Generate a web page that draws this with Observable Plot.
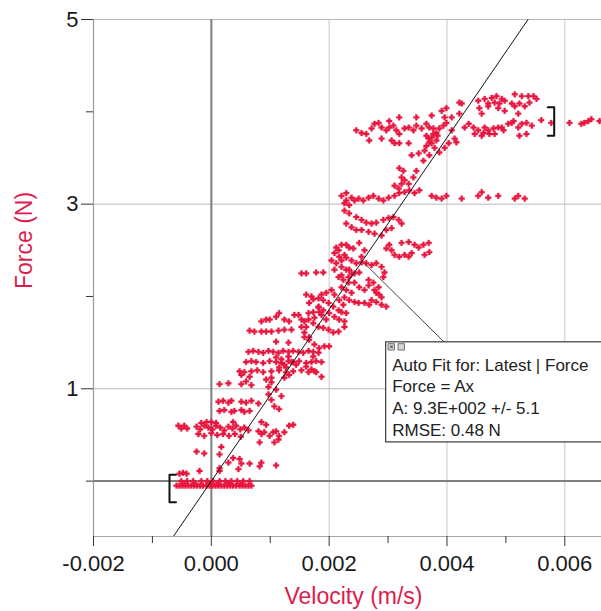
<!DOCTYPE html>
<html>
<head>
<meta charset="utf-8">
<script src="https://cdn.jsdelivr.net/npm/d3@7"></script>
<script src="https://cdn.jsdelivr.net/npm/@observablehq/plot@0.6"></script>
<style>
  html, body { margin: 0; padding: 0; background: #fff; }
  #chart { width: 601px; height: 611px; }
</style>
</head>
<body>
<div id="chart"></div>
<script>
// ---- Data: [velocity (mm/s), force (N)] ----
const bottomBand = [
  [-0.59,-0.05],[-0.54,-0.05],[-0.49,-0.05],[-0.44,-0.05],[-0.39,-0.05],[-0.34,-0.05],[-0.29,-0.05],[-0.24,-0.05],
  [-0.19,-0.05],[-0.14,-0.05],[-0.08,-0.05],[-0.03,-0.05],[0.02,-0.05],[0.07,-0.05],[0.12,-0.05],[0.17,-0.05],
  [0.22,-0.05],[0.27,-0.05],[0.32,-0.05],[0.37,-0.05],[0.42,-0.05],[0.48,-0.05],[0.53,-0.05],[0.58,-0.05],
  [0.63,-0.05],[0.68,-0.05],
  [-0.51,0.0],[-0.41,0.0],[-0.31,0.0],[-0.17,0.0],[-0.07,0.0],[0.03,0.0],[0.14,0.0],[0.24,0.0],[0.34,0.0],
  [0.44,0.0],[0.54,0.0],[0.65,0.0],
  [-0.46,-0.03],[-0.27,-0.03],[-0.05,-0.02],[0.10,-0.03],[0.30,-0.02],[0.50,-0.03],
  [-0.54,0.08],[-0.48,0.09],[-0.42,0.08],[-0.20,0.11],[0.14,0.11]
];
const lowCluster = [
  [-0.25,0.32],[-0.12,0.30],[0.17,0.37],[0.14,0.29],[0.29,0.20],[0.37,0.25],[0.48,0.24],[0.51,0.19],[0.65,0.19],
  [0.85,0.20],[0.46,0.13],[1.10,0.17],[0.82,0.16],[0.14,0.14],
  [-0.56,0.60],[-0.51,0.57],[-0.46,0.60],[-0.41,0.57],[-0.25,0.59],[-0.19,0.56],[-0.12,0.60],[-0.05,0.58],
  [0.02,0.56],[0.08,0.60],[0.15,0.58],[0.22,0.55],[0.29,0.59],[0.36,0.57],[0.42,0.60],[0.49,0.56],[0.56,0.58],[0.63,0.55],
  [-0.22,0.51],[-0.12,0.49],[0.0,0.52],[0.10,0.50],[0.20,0.51],[0.30,0.49],[0.40,0.51],[0.50,0.48],
  [-0.17,0.63],[-0.08,0.64],[0.0,0.64],[0.08,0.63],[0.37,0.64],
  [0.80,0.54],[0.85,0.51],[0.90,0.53],[0.99,0.49],[1.05,0.53],[1.10,0.54],[1.15,0.49],[1.24,0.53],[1.32,0.60],
  [1.39,0.61],[1.07,0.42],[1.14,0.45],[0.82,0.42],[0.85,0.64],[0.93,0.61],
  [0.12,0.86],[0.20,0.87],[0.29,0.85],[0.34,0.87],[0.51,0.86],[0.59,0.85],[0.68,0.87],[0.80,0.84],
  [0.14,0.76],[0.22,0.77],[0.34,0.75],[0.39,0.76],[0.51,0.77],[0.56,0.75],[0.65,0.76],
  [0.14,1.05],[0.29,1.06],[0.51,1.05],[0.68,1.04],
  [0.97,0.94],[1.02,0.88],[1.07,0.81],[1.15,0.78],[0.97,1.02],[1.02,1.07],[1.10,0.99],[1.19,0.92]
];
const midCluster = [
  [0.63,1.40],[0.71,1.41],[0.80,1.40],[0.88,1.39],[0.97,1.41],[1.05,1.40],[1.14,1.39],[1.22,1.41],[1.31,1.40],
  [1.39,1.41],[1.48,1.40],[1.56,1.39],[1.65,1.41],[1.73,1.40],[1.82,1.39],
  [0.59,1.29],[0.68,1.30],[0.76,1.29],[0.88,1.28],[0.99,1.30],[1.10,1.29],[1.19,1.28],[1.31,1.30],[1.39,1.29],
  [1.49,1.30],[1.61,1.28],[1.70,1.29],[1.78,1.30],[1.87,1.29],
  [0.48,1.19],[0.56,1.18],[0.68,1.19],[0.78,1.20],[0.88,1.18],[1.02,1.19],[1.15,1.20],[1.27,1.18],[1.39,1.19],
  [1.53,1.20],[1.65,1.18],[1.75,1.19],
  [1.10,1.34],[1.19,1.32],[1.24,1.26],[1.31,1.35],[1.36,1.29],[1.27,1.23],[1.15,1.23],[1.44,1.26],[1.32,1.15],
  [1.24,1.12],[1.02,1.12],[0.93,1.10],[0.65,1.13],[0.59,1.08],[0.51,1.15],
  [0.65,1.63],[0.73,1.62],[0.85,1.62],[0.93,1.62],[1.02,1.62],[1.10,1.51],[1.31,1.50],[1.53,1.67],[1.58,1.61],[1.66,1.56],
  [0.99,1.75],[1.10,1.78],[1.15,1.82],[1.24,1.75],[1.32,1.73],[1.41,1.80],[1.53,1.75],[1.65,1.82],[1.73,1.83],
  [1.75,1.77],[1.82,1.88],[0.85,1.73],[0.93,1.75],[1.48,1.80],[1.58,1.73],[1.61,1.67],[1.14,1.63],[1.24,1.64],[1.36,1.64],
  [1.66,1.93],[1.73,1.97],[1.82,1.98],[1.90,1.96],[1.99,1.93],[2.07,1.89],[2.16,1.85],[2.21,1.83],[2.29,1.82],
  [1.82,1.89],[1.90,1.85],[2.00,1.82],[2.09,1.78],[2.17,1.75],[2.26,1.73],[1.87,1.80],[1.95,1.75],
  [1.61,2.02],[1.70,2.00],[1.87,2.02],[1.95,2.04],[2.04,2.07],[2.09,2.02],[2.17,1.96],[2.24,1.91],[1.83,1.83],
  [2.26,1.67],[1.65,1.75],[1.73,1.71],[1.82,1.67],[1.90,1.66],[1.99,1.64],[2.07,1.61],[2.16,1.62],[1.58,1.56],
  [1.66,1.53],[1.75,1.48],[1.83,1.44],[1.92,1.46],[2.00,1.46],[1.73,1.35],[1.61,1.24],[1.70,1.21],[1.78,1.18],[1.87,1.13],
  [1.53,2.25],[1.61,2.25],[1.78,2.26],[1.90,2.26]
];
const upperCluster = [
  [2.12,2.53],[2.21,2.56],[2.29,2.56],[2.34,2.53],[2.09,2.47],[2.17,2.43],[2.26,2.45],[2.38,2.39],[2.12,2.36],
  [2.21,2.32],[2.29,2.29],[2.38,2.25],[2.16,2.21],[2.24,2.18],[2.33,2.15],[2.21,2.10],[2.29,2.07],[2.38,2.04],
  [2.26,1.99],[2.34,1.96],[2.43,1.94],[2.09,2.29],[2.04,2.39],[2.16,2.50],[2.41,2.52],[2.21,2.39],[2.29,2.42],
  [2.46,2.36],[2.34,2.29],[2.43,2.25],[2.51,2.26],[2.21,2.23],[2.33,2.21],[2.55,2.43],[2.60,2.50],[2.51,2.58],
  [2.55,2.37],[2.63,2.36],[2.72,2.34],[2.80,2.36],[2.89,2.32],[2.94,2.26],[2.92,2.21],[2.67,2.18],[2.75,2.15],
  [2.84,2.10],[2.77,2.07],[2.85,2.02],[2.72,1.96],[2.80,1.94],[2.89,1.91],[2.97,1.89],[2.50,1.93],[2.60,1.93],
  [2.68,1.91],[2.43,2.15],[2.51,2.10],[2.60,2.07],[2.67,2.12],[2.80,2.04],[2.89,1.99],
  [2.97,2.52],[3.06,2.50],[3.11,2.45],[3.19,2.43],[3.28,2.45],[3.40,2.47],[3.45,2.56],[3.52,2.53],[3.02,2.56],
  [3.23,2.58],[3.35,2.59],[3.60,2.56],[3.69,2.58],[3.70,2.48],[3.62,2.45],[3.35,2.43],
  [2.46,2.86],[2.55,2.83],[2.63,2.80],[2.72,2.79],[2.80,2.80],[2.92,2.83],[3.01,2.85],[3.09,2.86],[3.18,2.83],
  [3.23,2.79],[2.55,2.72],[2.67,2.70],[2.77,2.68],[2.89,2.66],[2.97,2.72],[3.06,2.74],
  [2.26,2.93],[2.34,2.90],[2.29,2.79],[2.38,2.75],[2.46,2.72],
  [2.21,3.09],[2.29,3.12],[2.38,3.07],[2.50,3.06],[2.58,3.04],[2.67,3.07],[2.75,3.09],[2.84,3.06],[2.92,3.04],
  [3.01,3.07],[3.11,3.09],[3.19,3.12],[3.28,3.13],[3.36,3.15],[3.45,3.12],[3.53,3.15],[3.74,3.09],[3.82,3.07],
  [3.91,3.06],[3.99,3.09],[3.11,3.20],[3.18,3.17],[3.23,3.22],
  [4.25,3.06],[4.53,3.09],[4.70,3.07],[4.87,3.09],[5.15,3.06],[5.32,3.06],[5.21,3.09],[4.59,3.13],
  [2.26,3.01],[2.34,2.99],[2.43,3.04],[2.29,3.04],
  [3.19,3.39],[3.26,3.36],[3.23,3.29],[3.28,3.26],[3.35,3.22],[3.43,3.29],[3.48,3.36]
];
const topCluster = [
  [2.46,3.80],[2.55,3.77],[2.63,3.76],[2.72,3.82],[2.77,3.87],[2.84,3.88],[2.89,3.83],[2.97,3.80],[3.02,3.83],
  [3.09,3.85],[3.14,3.80],[3.19,3.76],[3.28,3.82],[3.35,3.83],[3.43,3.80],[3.48,3.85],[3.57,3.82],[3.65,3.87],
  [3.70,3.83],[3.77,3.76],[3.82,3.77],[3.87,3.82],[3.94,3.85],[3.99,3.88],[4.08,3.80],[4.13,3.71],[3.69,3.71],
  [3.74,3.66],[3.79,3.61],[3.62,3.58],[3.70,3.53],[3.87,3.56],[3.96,3.61],[4.03,3.66],[4.16,3.67],[3.35,3.66],
  [3.40,3.53],[3.52,3.55],[3.60,3.47],[2.89,3.71],[2.68,3.69],[3.06,3.69],[3.11,3.66],[3.19,3.66],
  [3.65,3.74],[3.74,3.72],[3.82,3.69],[3.70,3.67],[3.77,3.82],[3.65,3.63],[3.84,3.74],
  [3.02,3.90],[3.19,3.94],[3.48,3.94],[3.74,3.96],[4.21,4.10],
  [3.91,4.01],[3.99,4.04],[4.25,4.09],[4.21,3.98],[4.08,3.94],[3.96,3.94],[4.53,4.12],[4.55,4.04],[4.59,3.98],
  [4.70,4.09],[4.81,4.10],[4.87,4.04],[4.98,4.12],[5.10,4.09],[5.15,4.19],[5.21,3.98],
  [4.30,3.83],[4.37,3.87],[4.45,3.83],[4.53,3.80],[4.62,3.77],[4.70,3.80],[4.79,3.82],[4.87,3.83],[4.96,3.80],
  [5.04,3.87],[5.13,3.90],[5.21,3.83],[4.47,3.76],[4.59,3.74],[4.72,3.76],
  [4.64,4.14],[4.76,4.15],[4.84,4.17],[4.93,4.14],[5.27,4.17],[5.38,4.17],[5.47,4.17],[5.52,4.14],[4.70,4.06],
  [4.89,4.09],[4.98,4.01],[5.15,4.06],[5.23,4.09],[5.32,4.06],[5.40,4.10],[4.64,3.83],[4.81,3.76],[4.93,3.83],
  [5.10,3.88],[5.27,3.87],[5.35,3.88],[5.44,3.85],[5.23,3.74],[5.35,3.76],[5.60,3.91],[5.77,3.88],
  [6.08,3.88],[6.28,3.87],[6.33,3.88],[6.40,3.90],[6.45,3.92],[6.59,3.90]
];

// Axis ticks
const xMajorTicks = [-0.002, 0.000, 0.002, 0.004, 0.006];
const xMinorTicks = [-0.001, 0.001, 0.003, 0.005];
const yMajorTicks = [1, 3, 5];
const yMinorTicks = [0, 2, 4];

// Fit and annotation values
const fitA = 930;                    // Force = A x, A = 9.3E+002
const fitLines = ["Auto Fit for: Latest | Force", "Force = Ax", "A: 9.3E+002 +/- 5.1", "RMSE: 0.48 N"];
const calloutBox = {x1: 0.002969, x2: 0.0068, y1: 0.419, y2: 1.503};
const calloutLeader = {x1: 0.002599, y1: 2.359, x2: 0.003958, y2: 1.503};
const leftBracket = [[-0.00060, 0.07], [-0.00071, 0.07], [-0.00071, -0.23], [-0.00060, -0.23]];
const rightBracket = [[0.00571, 4.05], [0.00582, 4.05], [0.00582, 3.74], [0.00571, 3.74]];

const xDomain = [-0.002, 0.006623];
const yDomain = [-0.6, 5];

const points = [...bottomBand, ...lowCluster, ...midCluster, ...upperCluster, ...topCluster]
  .map(([v, f]) => ({velocity: v / 1000, force: f}));

const fitSegment = [
  {velocity: yDomain[0] / fitA, force: yDomain[0]},
  {velocity: yDomain[1] / fitA, force: yDomain[1]}
];

const red = "#e8163f";
const labelRed = "#dc1c4c";
const font = "'Liberation Sans', Arial, Helvetica, sans-serif";
const lineOffsets = [29, 50, 72, 94];

const chart = Plot.plot({
  width: 601,
  height: 611,
  marginLeft: 93,
  marginRight: 0,
  marginTop: 19,
  marginBottom: 75,
  style: {fontFamily: font, fontSize: "22px", background: "#fff", color: "#1a1a1a", overflow: "visible"},
  x: {domain: xDomain, axis: null},
  y: {domain: yDomain, axis: null},
  marks: [
    Plot.gridX(xMajorTicks.filter(d => d !== 0), {stroke: "#c8c8c8", strokeOpacity: 1}),
    Plot.gridY([1, 3, 5], {stroke: "#b8b8b8", strokeOpacity: 1}),
    Plot.ruleX([xDomain[0]], {stroke: "#9a9a9a", strokeWidth: 1.2}),
    Plot.ruleY([yDomain[0]], {stroke: "#a8a8a8", strokeWidth: 1.2}),
    Plot.ruleX([0], {stroke: "#7f7f7f", strokeWidth: 2}),
    Plot.ruleY([0], {stroke: "#7f7f7f", strokeWidth: 2}),
    Plot.axisX({ticks: xMajorTicks, tickSize: 10, tickPadding: 9, tickFormat: d => d.toFixed(3), label: null, fontSize: 22, stroke: "#333"}),
    Plot.axisX({ticks: xMinorTicks, tickSize: 7, tickFormat: () => "", label: null, stroke: "#333"}),
    Plot.axisY({ticks: yMajorTicks, tickSize: 12, tickPadding: 3, tickFormat: d => String(d), label: null, fontSize: 22, stroke: "#333"}),
    Plot.axisY({ticks: yMinorTicks, tickSize: 7, tickFormat: () => "", label: null, stroke: "#333"}),
    Plot.dot(points, {x: "velocity", y: "force", symbol: "cross", r: 2.4, fill: red, stroke: red, strokeWidth: 0.4, clip: true}),
    Plot.line(fitSegment, {x: "velocity", y: "force", stroke: "#111", strokeWidth: 1, clip: true}),
    Plot.line(leftBracket, {x: d => d[0], y: d => d[1], stroke: "#111", strokeWidth: 2}),
    Plot.line(rightBracket, {x: d => d[0], y: d => d[1], stroke: "#111", strokeWidth: 2}),
    Plot.link([calloutLeader], {x1: "x1", y1: "y1", x2: "x2", y2: "y2", stroke: "#444", strokeWidth: 1}),
    Plot.rect([calloutBox], {x1: "x1", x2: "x2", y1: "y1", y2: "y2", fill: "#fff", stroke: "#111", strokeWidth: 1}),
    Plot.dot([calloutBox], {x: "x1", y: "y2", dx: 5, dy: 4.5, symbol: "square", r: 3.6, fill: "#d6d6d6", stroke: "#555", strokeWidth: 0.8}),
    Plot.dot([calloutBox], {x: "x1", y: "y2", dx: 15, dy: 4.5, symbol: "square", r: 3.6, fill: "#d6d6d6", stroke: "#555", strokeWidth: 0.8}),
    Plot.text([calloutBox], {x: "x1", y: "y2", dx: 5, dy: 4.5, text: () => "×", fontSize: 8, fill: "#222"}),
    ...fitLines.map((line, i) => Plot.text([line], {
      x: () => calloutBox.x1, y: () => calloutBox.y2,
      text: d => d, dx: 6, dy: lineOffsets[i],
      textAnchor: "start", lineAnchor: "bottom", fontSize: 17, fill: "#222"
    })),
    Plot.text(["Velocity (m/s)"], {frameAnchor: "bottom", dx: 6, dy: 60, text: d => d, fill: labelRed, fontSize: 23, lineAnchor: "middle"}),
    Plot.text(["Force (N)"], {frameAnchor: "left", dx: -69, dy: 11, rotate: -90, text: d => d, fill: labelRed, fontSize: 23, lineAnchor: "middle"})
  ]
});
document.getElementById("chart").appendChild(chart);
</script>
</body>
</html>
